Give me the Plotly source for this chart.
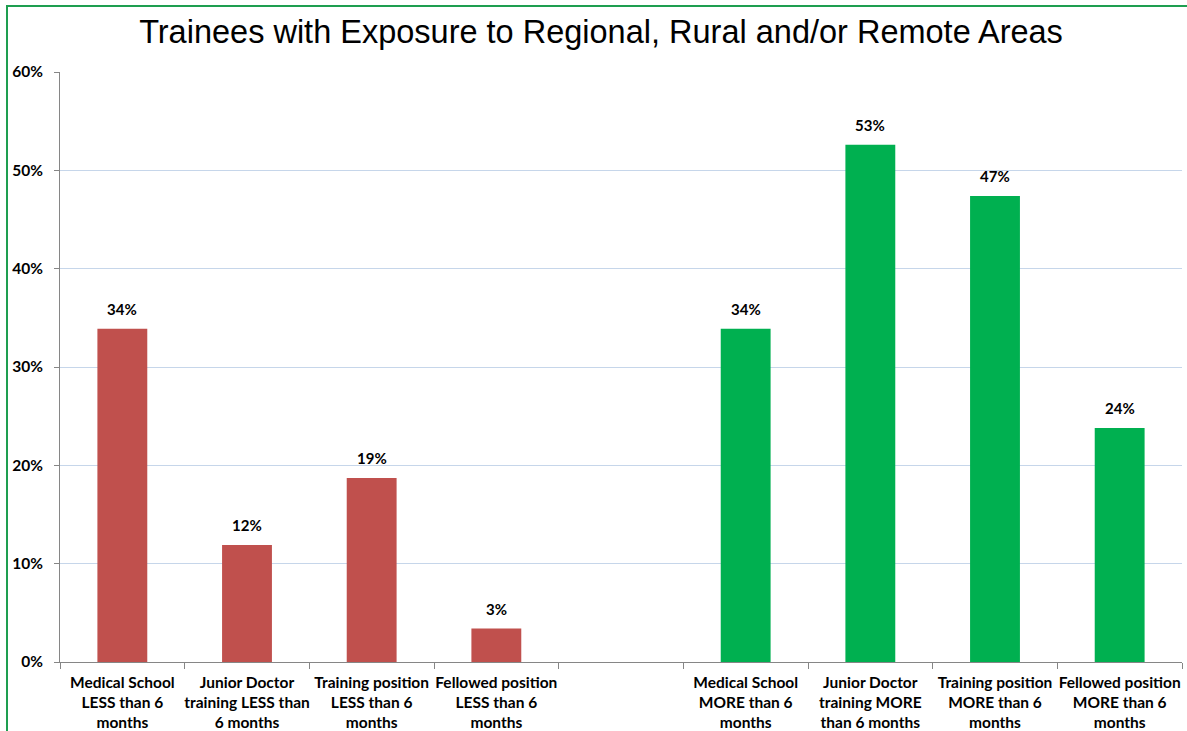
import plotly.graph_objects as go

categories = [
    "Medical School<br>LESS than 6<br>months",
    "Junior Doctor<br>training LESS than<br>6 months",
    "Training position<br>LESS than 6<br>months",
    "Fellowed position<br>LESS than 6<br>months",
    " ",
    "Medical School<br>MORE than 6<br>months",
    "Junior Doctor<br>training MORE<br>than 6 months",
    "Training position<br>MORE than 6<br>months",
    "Fellowed position<br>MORE than 6<br>months",
]
values = [0.339, 0.119, 0.187, 0.034, None, 0.339, 0.526, 0.474, 0.238]
colors = ["#C0504D"] * 5 + ["#00B050"] * 4
y_ticks = [0, 0.1, 0.2, 0.3, 0.4, 0.5, 0.6]
y_ticktext = ["0%", "10%", "20%", "30%", "40%", "50%", "60%"]

fig = go.Figure(go.Bar(
    x=categories, y=values, marker=dict(color=colors, line=dict(width=0)),
    width=0.4,
))

annotations = []
for c, v in zip(categories, values):
    if v is None:
        continue
    annotations.append(dict(
        x=c, y=v, xref="x", yref="y", text=f"{round(v * 100)}%",
        showarrow=False, yanchor="bottom", yshift=9,
        font=dict(family="Lato", size=15, color="#000000", weight="bold"),
    ))

W, H = 1187, 731
L, R, T, B = 60, 5, 72, 69
pw, ph = W - L - R, H - T - B

def px(x):
    return (x - L) / pw

def py(y):
    return (H - B - y) / ph

fig.update_layout(
    width=W, height=H,
    margin=dict(l=L, r=R, t=T, b=B),
    paper_bgcolor="white", plot_bgcolor="white",
    showlegend=False,
    annotations=annotations,
    title=dict(text="Trainees with Exposure to Regional, Rural and/or Remote Areas",
               x=601 / W, xref="container", y=1 - 32 / H, yanchor="middle", xanchor="center",
               font=dict(family="Liberation Sans", size=32.5, color="#000000")),
    xaxis=dict(type="category", tickson="boundaries", ticks="outside", ticklen=6,
               tickcolor="#868686", showline=True, linecolor="#868686", linewidth=1,
               showgrid=False, automargin=False, ticklabelstandoff=6,
               tickfont=dict(family="Lato", size=15.5, color="#000000", weight="bold"),
               tickangle=0),
    yaxis=dict(range=[0, 0.6], tickvals=y_ticks, ticktext=y_ticktext,
               ticks="outside", ticklen=5, tickcolor="#868686",
               showline=True, linecolor="#868686", linewidth=1,
               showgrid=True, gridcolor="#C6D6EA", gridwidth=1, zeroline=False,
               automargin=False, ticklabelstandoff=8,
               tickfont=dict(family="Lato", size=15.5, color="#000000", weight="bold")),
    bargap=0.6,
    shapes=[dict(type="rect", xref="paper", yref="paper",
                 x0=px(7), x1=px(1300), y0=py(800), y1=py(6),
                 line=dict(color="#1E9E50", width=2), fillcolor="rgba(0,0,0,0)",
                 layer="above")],
)

fig.write_html("out.html")
